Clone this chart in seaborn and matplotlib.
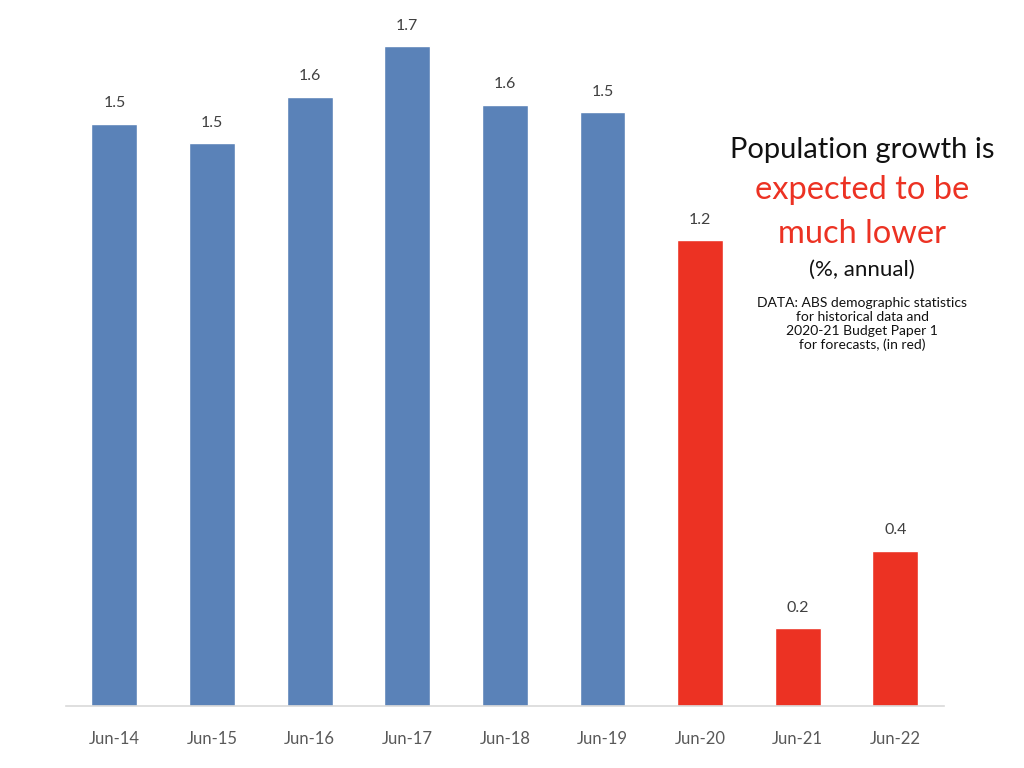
import matplotlib
matplotlib.use("Agg")
import matplotlib.pyplot as plt
import seaborn as sns
import pandas as pd

# population growth, % annual
periods = ["Jun-14", "Jun-15", "Jun-16", "Jun-17", "Jun-18",
           "Jun-19", "Jun-20", "Jun-21", "Jun-22"]
growth = [1.50, 1.45, 1.57, 1.70, 1.55, 1.53, 1.20, 0.20, 0.40]
value_labels = ["1.5", "1.5", "1.6", "1.7", "1.6", "1.5", "1.2", "0.2", "0.4"]
is_forecast = [False, False, False, False, False, False, True, True, True]

BLUE = "#5a82b8"
RED = "#ec3223"

df = pd.DataFrame({"period": periods, "growth": growth, "forecast": is_forecast})
palette = {p: (RED if f else BLUE) for p, f in zip(periods, is_forecast)}

sns.set_theme(style="white")
plt.rcParams["font.family"] = ["Lato", "DejaVu Sans"]

fig = plt.figure(figsize=(10.24, 7.68), dpi=100)
ax = fig.add_axes([0.064, 0.081, 0.858, 0.909])

sns.barplot(data=df, x="period", y="growth", hue="period", palette=palette,
            width=0.47, legend=False, ax=ax, saturation=1)

for i, (v, lab) in enumerate(zip(growth, value_labels)):
    ax.text(i, v + 0.035, lab, ha="center", va="bottom", fontsize=11.5, color="#404040")

ax.set_ylim(0, 1.8)
ax.set_xlim(-0.5, len(periods) - 0.5)
ax.set_xlabel("")
ax.set_ylabel("")
ax.set_yticks([])
ax.tick_params(axis="x", labelsize=12, labelcolor="#595959", length=0, pad=18)
for s in ["top", "right", "left"]:
    ax.spines[s].set_visible(False)
ax.spines["bottom"].set_color("#d9d9d9")
ax.spines["bottom"].set_linewidth(1.2)

# annotation block on the right
fig.text(0.842, 0.805, "Population growth is", ha="center", va="center",
         fontsize=21, color="#111111")
fig.text(0.842, 0.752, "expected to be", ha="center", va="center",
         fontsize=23.5, color=RED)
fig.text(0.842, 0.695, "much lower", ha="center", va="center",
         fontsize=23.5, color=RED)
fig.text(0.842, 0.648, "(%, annual)", ha="center", va="center",
         fontsize=16, color="#111111")
fig.text(0.842, 0.578, "DATA: ABS demographic statistics\nfor historical data and\n"
         "2020-21 Budget Paper 1\nfor forecasts, (in red)",
         ha="center", va="center", fontsize=10, color="#111111", linespacing=1.2)

fig.savefig("out.png", dpi=100)
